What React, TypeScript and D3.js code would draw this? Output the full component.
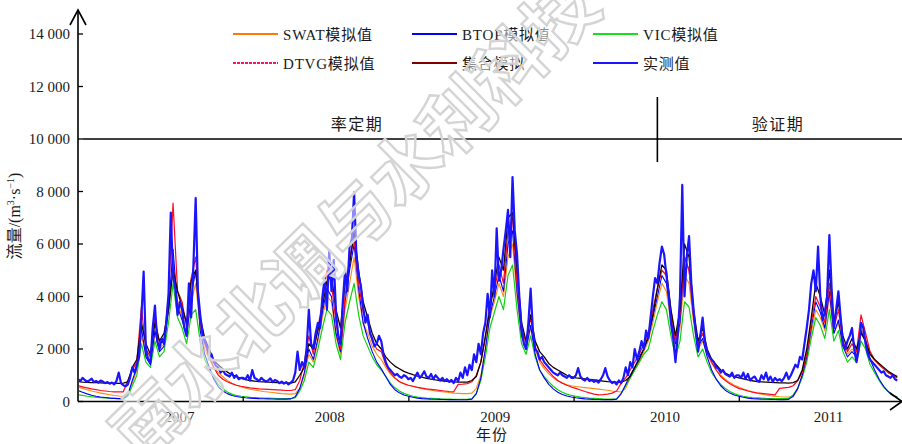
import * as React from "react";
import * as d3 from "d3";

const DAY = 86400000;
const START = Date.UTC(2006, 6, 1);
const END = Date.UTC(2011, 6, 1);

// observed flow, one value every 5 days from 2006-07-01, split by hydrological year
const obs2006 = [
  850, 780, 900, 820, 760, 800, 870, 740, 780, 720, 800, 760, 700, 740, 680, 720, 650, 780, 1100, 700,
  620, 580, 640, 900, 1300, 1100, 1400, 1700, 3200, 4950, 2000, 1600, 1500, 2800, 3650, 2300, 2000, 2400, 2200, 3000,
  4100, 7200, 4800, 4300, 3300, 3800, 3500, 2800, 2500, 4500, 3200, 5200, 7750, 4200, 3300, 2600, 2300, 2100, 1700, 1800,
  1500, 1350, 1300, 1100, 1200, 1050, 1000, 950, 1100, 900, 1000, 850, 900,
];
const obs2007 = [
  900, 850, 1000, 800, 1200, 900, 850, 780, 900, 820, 760, 800, 880, 740, 820, 780, 700, 760, 680, 740,
  650, 720, 800, 1100, 1900, 1200, 1500, 1300, 2000, 3500, 2200, 2000, 2600, 3000, 2800, 4000, 4700, 3500, 5770, 4200,
  5400, 3400, 2500, 2200, 3800, 5000, 4200, 5900, 6200, 7980, 5600, 4800, 4400, 3600, 3000, 3300, 2600, 2400, 2100, 2200,
  2500, 2300, 1800, 1500, 1300, 1200, 1100, 1000, 1050, 950, 900, 1000, 950,
];
const obs2008 = [
  850, 900, 780, 950, 1100, 900, 1000, 1150, 950, 900, 1050, 850, 1000, 900, 800, 900, 780, 850, 750, 820,
  700, 900, 780, 1100, 900, 1300, 1000, 1400, 1200, 1800, 1500, 2200, 1800, 2600, 3000, 4100, 3200, 5000, 4000, 6600,
  4600, 5000, 5800, 6500, 7300, 5500, 8550, 6500, 5600, 4000, 2800, 2200, 2000, 3000, 4300, 2700, 2000, 1900, 1600, 1700,
  1500, 1400, 1300, 1200, 1100, 1050, 1000, 1100, 1000, 950, 900, 1000, 900,
];
const obs2009 = [
  900, 1000, 1270, 950, 850, 800, 900, 780, 820, 750, 800, 720, 850, 1000, 1270, 950, 800, 700, 750, 650,
  800, 700, 900, 1300, 1000, 1500, 1300, 2000, 1600, 1900, 2300, 2000, 2700, 2400, 3200, 4000, 4700, 4500, 5300, 5900,
  5600, 4800, 4100, 3000, 2400, 1500, 2500, 4000, 8250, 4000, 5500, 6300, 4500, 3500, 2600, 1900, 2500, 3200, 2300, 1900,
  1700, 1600, 1500, 1300, 1250, 1100, 1200, 1050, 1000, 950, 1100, 900, 1000,
];
const obs2010 = [
  1000, 900, 1100, 850, 1050, 800, 900, 950, 800, 750, 1000, 850, 1100, 800, 950, 750, 900, 800, 850, 780,
  900, 1100, 850, 1000, 1200, 1400, 1300, 1700, 1600, 2200, 2800, 3500, 4500, 5000, 4200, 5900, 4000, 3100, 3400, 4000,
  6340, 4300, 2800, 3500, 4200, 3200, 2200, 2000, 2300, 2500, 2800, 2000, 1500, 2000, 3000, 2800, 2200, 1800, 1600, 1500,
  1400, 1300, 1200, 1100, 1150, 1000, 950, 900, 1000, 850, 800,
];
const observed = [...obs2006, ...obs2007, ...obs2008, ...obs2009, ...obs2010];

// simulated flows, one value every 10 days from 2006-07-01
const swat = [
  550, 500, 450, 400, 360, 320, 290, 260, 230, 210, 200, 300, 700, 1200, 2500, 1800, 1500, 2600, 2000, 2200,
  3500, 5500, 3800, 3200, 2500, 3800, 4500, 2800, 2000, 1600, 1300, 1100, 950, 800, 700, 620, 560, 510, 470, 440,
  410, 380, 360, 340, 320, 300, 290, 280, 300, 500, 1000, 1800, 1500, 2300, 3200, 4000, 3800, 2500, 1800, 3500,
  4500, 5500, 4000, 3000, 2600, 2100, 1800, 1600, 1300, 1050, 880, 760, 680, 620, 570, 530, 490, 460, 430, 400,
  380, 360, 340, 320, 310, 300, 300, 320, 500, 1000, 2000, 3200, 3800, 4500, 4000, 5500, 6000, 4000, 2500, 2000,
  2800, 2000, 1500, 1250, 1050, 900, 780, 700, 640, 600, 570, 550, 530, 510, 490, 470, 450, 430, 400, 380,
  360, 500, 900, 1200, 1500, 1900, 2300, 3000, 3800, 4500, 4200, 3000, 2100, 2800, 4800, 4500, 3000, 2000, 2300, 1800,
  1450, 1200, 1000, 850, 720, 620, 550, 480, 420, 370, 320, 280, 250, 220, 200, 180, 170, 170, 180, 450,
  1000, 1600, 2600, 3500, 3200, 2700, 4000, 2600, 3000, 2100, 1800, 2000, 1800, 2800, 2400, 1800, 1550, 1400, 1250, 1100,
  1000, 920,
];
const btop = [
  420, 350, 290, 240, 200, 170, 150, 130, 120, 110, 110, 250, 800, 1300, 2800, 1700, 1400, 2700, 1900, 2100,
  3500, 5800, 3600, 3100, 2500, 4000, 5000, 2700, 1800, 1300, 850, 560, 400, 300, 230, 190, 160, 140, 130, 120,
  110, 105, 100, 95, 90, 90, 90, 100, 180, 500, 1100, 2000, 1600, 2400, 3400, 4300, 4000, 2600, 1900, 3800,
  5000, 6000, 4300, 3000, 2400, 1900, 1500, 1250, 950, 650, 450, 330, 250, 200, 160, 130, 110, 100, 90, 85,
  80, 75, 70, 70, 65, 65, 70, 90, 300, 900, 2000, 3300, 4000, 4800, 4200, 6000, 6500, 4200, 2500, 2000,
  2900, 1800, 1200, 900, 650, 480, 350, 270, 210, 170, 140, 120, 100, 90, 80, 75, 70, 70, 70, 90,
  300, 650, 1000, 1300, 1700, 2000, 2400, 3200, 4000, 4800, 4500, 3200, 2200, 3000, 5500, 5000, 3200, 2100, 2400, 1700,
  1200, 850, 600, 430, 320, 250, 200, 160, 130, 110, 100, 90, 85, 80, 75, 70, 70, 80, 200, 500,
  1000, 1700, 2800, 3800, 3400, 2800, 4200, 2600, 3100, 2100, 1700, 1900, 1700, 2700, 2300, 1600, 1200, 850, 580, 380,
  230, 150,
];
const vic = [
  260, 230, 200, 180, 160, 150, 140, 130, 120, 110, 110, 200, 600, 1000, 2200, 1500, 1300, 2300, 1700, 1900,
  3000, 4500, 3200, 2800, 2200, 3300, 3500, 2300, 1600, 1200, 900, 650, 480, 360, 280, 230, 200, 180, 160, 150,
  140, 130, 125, 120, 115, 110, 110, 110, 150, 400, 800, 1500, 1300, 2000, 2800, 3500, 3300, 2200, 1600, 3000,
  3800, 4500, 3300, 2500, 2100, 1700, 1400, 1200, 950, 700, 520, 400, 310, 250, 200, 170, 150, 130, 120, 110,
  100, 95, 90, 85, 80, 80, 80, 100, 300, 800, 1700, 2800, 3400, 4000, 3500, 4800, 5200, 3500, 2200, 1800,
  2500, 1700, 1200, 950, 750, 580, 450, 350, 280, 230, 200, 170, 150, 130, 120, 110, 100, 95, 90, 100,
  300, 600, 900, 1200, 1500, 1800, 2000, 2700, 3300, 3800, 3500, 2500, 1700, 2300, 3800, 3600, 2500, 1700, 2000, 1500,
  1100, 850, 650, 500, 380, 300, 240, 200, 170, 150, 140, 130, 120, 115, 110, 110, 110, 120, 250, 500,
  900, 1500, 2400, 3200, 2900, 2400, 3500, 2300, 2700, 1900, 1500, 1700, 1500, 2300, 2000, 1400, 1100, 800, 550, 380,
  250, 180,
];
const dtvg = [
  600, 560, 520, 480, 450, 420, 400, 380, 370, 370, 370, 800, 1200, 1500, 3600, 2000, 1700, 3200, 2200, 2400,
  4000, 7560, 4200, 3800, 2800, 4700, 5500, 3000, 2200, 1700, 1300, 1000, 850, 750, 680, 620, 580, 550, 520, 500,
  480, 470, 460, 450, 440, 430, 420, 420, 450, 800, 1500, 2500, 1800, 2800, 3800, 5000, 4500, 3000, 2000, 4000,
  5500, 6200, 4500, 3400, 3000, 2300, 2000, 1900, 1400, 1100, 900, 750, 680, 620, 580, 540, 510, 480, 460, 440,
  420, 400, 380, 370, 650, 660, 680, 750, 1000, 1500, 2400, 3800, 4200, 5200, 4500, 6500, 7000, 4500, 2800, 2200,
  3200, 2100, 1600, 1350, 1150, 950, 800, 700, 620, 550, 500, 440, 380, 330, 280, 250, 260, 280, 320, 400,
  700, 900, 1200, 1500, 1800, 2200, 2600, 3500, 4300, 5000, 4800, 3500, 2300, 3300, 5500, 5000, 3300, 2200, 2600, 1900,
  1500, 1200, 950, 800, 680, 580, 500, 450, 400, 360, 330, 310, 290, 270, 250, 500, 520, 540, 600, 800,
  1100, 1800, 3000, 4000, 3600, 3000, 4500, 2800, 3500, 2300, 1900, 2200, 1900, 3300, 2600, 1900, 1600, 1400, 1250, 1100,
  1000, 900,
];
const ensemble = [
  760, 740, 730, 720, 720, 710, 700, 700, 700, 690, 700, 750, 1300, 1600, 3000, 2200, 1800, 3000, 2300, 2600,
  3500, 5000, 4200, 3600, 3000, 4600, 5000, 3200, 2400, 2000, 1550, 1400, 1250, 1120, 1020, 950, 880, 830, 800, 780,
  760, 750, 740, 730, 720, 715, 710, 700, 750, 1000, 1300, 2200, 2000, 2700, 3600, 4600, 4800, 3500, 2800, 4500,
  5200, 6500, 5000, 3800, 3200, 2600, 2200, 2000, 1700, 1500, 1350, 1250, 1150, 1080, 1020, 970, 930, 880, 850, 820,
  800, 780, 760, 750, 740, 740, 740, 800, 950, 1500, 2500, 3500, 4500, 5500, 5000, 7000, 7200, 5000, 3000, 2300,
  3300, 2300, 1900, 1700, 1450, 1300, 1200, 1100, 1000, 950, 900, 880, 860, 840, 820, 800, 780, 760, 750, 740,
  740, 800, 950, 1300, 1600, 2000, 2500, 3300, 4300, 5200, 5000, 3500, 2500, 3500, 6000, 5500, 3500, 2300, 2800, 2000,
  1600, 1400, 1200, 1080, 1000, 950, 900, 860, 820, 790, 760, 750, 740, 730, 720, 710, 710, 700, 720, 800,
  1200, 2000, 3200, 4500, 4000, 3300, 5000, 3000, 3800, 2500, 2000, 2400, 2000, 2600, 2300, 1800, 1600, 1450, 1300, 1150,
  1050, 950,
];

const yTicks = [0, 2000, 4000, 6000, 8000, 10000, 12000, 14000];
const yearBoundaries = ["2007-07-01", "2008-07-01", "2009-07-01", "2010-07-01"];
const yearLabels = ["2007", "2008", "2009", "2010", "2011"];
const yearLabelDates = ["2007-02-10", "2008-01-08", "2009-01-08", "2010-01-18", "2011-01-14"];
const periodSplit = "2010-01-01";
const periodLabels = ["率定期", "验证期"];

const FONT = '"Liberation Serif", "Times New Roman", "Noto Sans CJK SC", serif';

// drawing order: observed last, on top
const series = [
  { key: "swat", values: swat, step: 10, color: "#ff8a10", width: 1.1 },
  { key: "vic", values: vic, step: 10, color: "#10d010", width: 1.2 },
  { key: "btop", values: btop, step: 10, color: "#0000ff", width: 1.1 },
  { key: "dtvg", values: dtvg, step: 10, color: "#ff0a1e", width: 1.2 },
  { key: "ensemble", values: ensemble, step: 10, color: "#140000", width: 1.3 },
  { key: "observed", values: observed, step: 5, color: "#1a14ff", width: 2.2 },
];

const legendItems = [
  { label: "SWAT模拟值", color: "#ff7a00", dash: null },
  { label: "BTOP模拟值", color: "#0000ff", dash: null },
  { label: "VIC模拟值", color: "#18e018", dash: null },
  { label: "DTVG模拟值", color: "#ff1060", dash: "3 1" },
  { label: "集合模拟", color: "#800000", dash: null },
  { label: "实测值", color: "#1a14ff", dash: null },
];

const App = () => {
  const width = 902;
  const height = 444;
  const x0 = 78;
  const yBase = 401.5;

  const x = d3.scaleUtc().domain([START, END]).range([x0, 904.5]);
  const y = d3.scaleLinear().domain([0, 14000]).range([yBase, 34]);
  const fmt = (v: number) => d3.format(",")(v).replace(",", " ");
  const toDate = (s: string) => new Date(s + "T00:00:00Z");

  const paths = series.map((s) => {
    const line = d3
      .line<number>()
      .x((_, i) => x(new Date(START + i * s.step * DAY)))
      .y((d) => y(d));
    return { ...s, d: line(s.values) ?? "" };
  });

  const splitX = x(toDate(periodSplit));
  const periodY = y(10000);

  const legendCols = [233, 412, 593];
  const legendRows = [34, 63];
  const txt = { fontFamily: FONT, fill: "#1a1a1a" } as React.CSSProperties;

  return (
    <svg
      width={width}
      height={height}
      viewBox={`0 0 ${width} ${height}`}
      style={{ position: "absolute", left: 0, top: 0, background: "#fff", fontFamily: FONT }}
    >
      <defs>
        <clipPath id="plot">
          <rect x={x0 + 1} y={0} width={900 - x0} height={yBase} />
        </clipPath>
      </defs>

      {/* legend */}
      {legendItems.map((it, i) => {
        const lx = legendCols[i % 3];
        const ly = legendRows[Math.floor(i / 3)];
        return (
          <g key={it.label}>
            <line
              x1={lx}
              x2={lx + 45}
              y1={ly}
              y2={ly}
              stroke={it.color}
              strokeWidth={2}
              strokeDasharray={it.dash ?? undefined}
            />
            <text x={lx + 50} y={ly + 5.5} fontSize={15} letterSpacing={0.8} style={txt}>
              {it.label}
            </text>
          </g>
        );
      })}

      {/* calibration / validation periods */}
      <line x1={x0 + 5} x2={902} y1={periodY} y2={periodY} stroke="#000" strokeWidth={1.6} />
      <line x1={splitX} x2={splitX} y1={97} y2={162} stroke="#000" strokeWidth={1.6} />
      <text x={357} y={130} textAnchor="middle" fontSize={16} letterSpacing={1.5} style={txt}>
        {periodLabels[0]}
      </text>
      <text x={778} y={130} textAnchor="middle" fontSize={16} letterSpacing={1.5} style={txt}>
        {periodLabels[1]}
      </text>

      {/* series */}
      <g clipPath="url(#plot)">
        {paths.map((p) => (
          <path
            key={p.key}
            d={p.d}
            fill="none"
            stroke={p.color}
            strokeWidth={p.width}
            strokeLinejoin="round"
          />
        ))}
      </g>

      {/* y axis */}
      <line x1={x0} x2={x0} y1={yBase} y2={10} stroke="#000" strokeWidth={1.6} />
      <polyline points={`${x0 - 8},25 ${x0},10 ${x0 + 8},25`} fill="none" stroke="#000" strokeWidth={1.6} />
      {yTicks.map((v) => (
        <g key={v}>
          <line x1={x0} x2={x0 + 5} y1={y(v)} y2={y(v)} stroke="#000" strokeWidth={1.3} />
          <text x={70} y={y(v) + 5} textAnchor="end" fontSize={15} style={txt}>
            {fmt(v)}
          </text>
        </g>
      ))}

      {/* x axis */}
      <line x1={x0} x2={902} y1={yBase} y2={yBase} stroke="#000" strokeWidth={1.6} />
      <polyline points={`890,393 902,${yBase} 890,410`} fill="none" stroke="#000" strokeWidth={1.6} />
      {yearBoundaries.map((d) => (
        <line key={d} x1={x(toDate(d))} x2={x(toDate(d))} y1={yBase} y2={yBase - 5} stroke="#000" strokeWidth={1.3} />
      ))}
      {yearLabels.map((lab, i) => (
        <text key={lab} x={x(toDate(yearLabelDates[i]))} y={422} textAnchor="middle" fontSize={15} style={txt}>
          {lab}
        </text>
      ))}

      {/* axis titles */}
      <text x={492} y={440} textAnchor="middle" fontSize={15} letterSpacing={1} style={txt}>
        年份
      </text>
      <text transform="translate(20,216) rotate(-90)" textAnchor="middle" fontSize={16} style={txt}>
        流量/(m<tspan dy={-6} fontSize={10}>3</tspan>
        <tspan dy={6}>·s</tspan>
        <tspan dy={-6} fontSize={10}>−1</tspan>
        <tspan dy={6}>)</tspan>
      </text>

      {/* watermark */}
      <text
        transform="translate(351,214) rotate(-44.5)"
        textAnchor="middle"
        dominantBaseline="central"
        fontSize={72}
        fontWeight={700}
        style={{ fontFamily: '"Noto Sans CJK SC", sans-serif' }}
        fill="#fff"
        fillOpacity={0.5}
        stroke="#d4d4d4"
        strokeWidth={2.4}
      >
        南水北调与水利科技
      </text>
    </svg>
  );
};

export default App;
